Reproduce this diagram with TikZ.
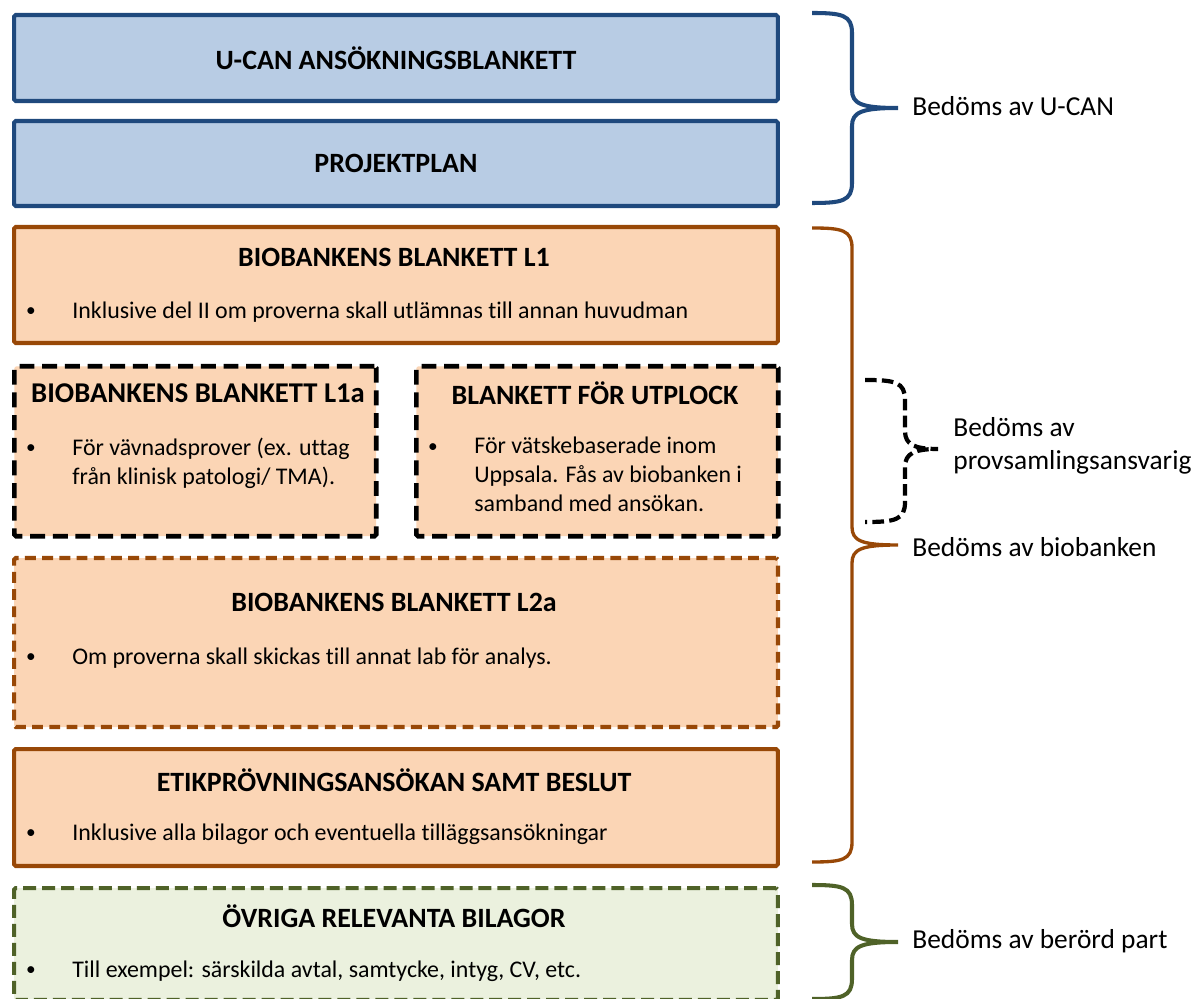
\documentclass[tikz,border=0pt]{standalone}
\usepackage{fontspec}
\setmainfont{Carlito}[Ligatures=NoCommon]
\definecolor{ucanblue}{HTML}{1F497D}
\definecolor{ucanfill}{HTML}{B8CCE4}
\definecolor{biobrown}{HTML}{984807}
\definecolor{biofill}{HTML}{FBD5B5}
\definecolor{partgreen}{HTML}{4F6228}
\definecolor{partfill}{HTML}{EBF1DE}
\tikzset{
  formbox/.style={anchor=north west, inner sep=0pt, rounded corners=1pt},
  bluebox/.style={formbox, draw=ucanblue, fill=ucanfill, line width=2.3pt},
  brownbox/.style={formbox, draw=biobrown, fill=biofill, line width=2.3pt},
  browndash/.style={formbox, draw=biobrown, fill=biofill, line width=2.4pt, dash pattern=on 6.2pt off 3.6pt},
  blackdash/.style={formbox, draw=black, fill=biofill, line width=2.6pt, dash pattern=on 8.5pt off 4.4pt},
  greendash/.style={formbox, draw=partgreen, fill=partfill, line width=2.3pt, dash pattern=on 7.4pt off 3.4pt},
  boxtitle/.style={font=\fontsize{15.9}{17}\selectfont\bfseries, inner sep=0pt},
  bodytext/.style={font=\fontsize{13.6}{16.4}\selectfont, anchor=west, align=left, inner sep=0pt},
  dot/.style={font=\fontsize{11}{13}\selectfont, inner sep=0pt},
  sidelabel/.style={font=\fontsize{15.6}{18.6}\selectfont, anchor=west, align=left, inner sep=0pt}
}
% #1 style, #2 left x, #3 top y, #4 tip y, #5 bottom y, #6 tip x
\newcommand{\sidebrace}[6]{%
  \draw[#1] (#2,#3) .. controls ({#2+30},#3) and ({#2+40},{#3+2}) .. ({#2+40},{#3+20})
    -- ({#2+40},{#4-18}) .. controls ({#2+40},{#4-4}) and ({#2+50},#4) .. (#6,#4)
    .. controls ({#2+50},#4) and ({#2+40},{#4+4}) .. ({#2+40},{#4+18})
    -- ({#2+40},{#5-20}) .. controls ({#2+40},{#5-2}) and ({#2+30},#5) .. (#2,#5);}
\begin{document}
\begin{tikzpicture}[x=0.02cm, y=-0.02cm]
  \useasboundingbox (0,0) rectangle (1200,999);
  \clip (0,0) rectangle (1200,999);

  % U-CAN
  \node[bluebox, minimum width=15.28cm, minimum height=1.72cm] (ucan) at (12,13) {};
  \node[boxtitle] (ucantitle) at (ucan.center) {U-CAN ANSÖKNINGSBLANKETT};
  \node[bluebox, minimum width=15.28cm, minimum height=1.7cm] (plan) at (12,119) {};
  \node[boxtitle] (plantitle) at (plan.center) {PROJEKTPLAN};

  % biobanken
  \node[brownbox, minimum width=15.28cm, minimum height=2.32cm] (l1) at (12,225) {};
  \node[boxtitle] (l1title) at (394,257) {BIOBANKENS BLANKETT L1};
  \node[dot] (l1dot) at (31,312) {\textbullet};
  \node[bodytext] (l1text) at (72,312) {Inklusive del II om proverna skall utlämnas till annan huvudman};

  \node[blackdash, minimum width=7.24cm, minimum height=3.4cm] (l1a) at (12,364) {};
  \node[boxtitle, font=\fontsize{16.3}{17}\selectfont\bfseries] (l1atitle) at (198,393) {BIOBANKENS BLANKETT L1a};
  \node[dot] (l1adot) at (31,449) {\textbullet};
  \node[bodytext, anchor=north west] (l1atext) at (72,438) {För vävnadsprover (ex. uttag\\från klinisk patologi/ TMA).};

  \node[blackdash, minimum width=7.24cm, minimum height=3.4cm] (utplock) at (414,364) {};
  \node[boxtitle] (utplocktitle) at (595,393) {BLANKETT FÖR UTPLOCK};
  \node[dot] (utplockdot) at (433,448) {\textbullet};
  \node[bodytext, anchor=north west] (utplocktext) at (474,437) {För vätskebaserade inom\\Uppsala. Fås av biobanken i\\samband med ansökan.};

  \node[browndash, minimum width=15.28cm, minimum height=3.38cm] (l2a) at (12,556) {};
  \node[boxtitle] (l2atitle) at (394,602) {BIOBANKENS BLANKETT L2a};
  \node[dot] (l2adot) at (31,658) {\textbullet};
  \node[bodytext] (l2atext) at (72,658) {Om proverna skall skickas till annat lab för analys.};

  \node[brownbox, minimum width=15.28cm, minimum height=2.34cm] (etik) at (12,747) {};
  \node[boxtitle] (etiktitle) at (394,780) {ETIKPRÖVNINGSANSÖKAN SAMT BESLUT};
  \node[dot] (etikdot) at (31,834) {\textbullet};
  \node[bodytext] (etiktext) at (72,834) {Inklusive alla bilagor och eventuella tilläggsansökningar};

  % berörd part
  \node[greendash, minimum width=15.28cm, minimum height=2.24cm] (ovriga) at (12,886) {};
  \node[boxtitle] (ovrigatitle) at (394,916) {ÖVRIGA RELEVANTA BILAGOR};
  \node[dot] (ovrigadot) at (31,971) {\textbullet};
  \node[bodytext] (ovrigatext) at (72,971) {Till exempel: särskilda avtal, samtycke, intyg, CV, etc.};

  % braces
  \sidebrace{ucanblue, line width=2.3pt}{812}{13}{108}{203}{898}
  \sidebrace{biobrown, line width=1.9pt}{812}{228}{545}{862}{898}
  \sidebrace{black, line width=2.4pt, dash pattern=on 6.6pt off 3pt}{865}{380}{449}{522}{938}
  \sidebrace{partgreen, line width=2.3pt}{812}{885}{942}{999}{898}

  \node[sidelabel] (ucanlabel) at (912,106) {Bedöms av U-CAN};
  \node[sidelabel] (biolabel) at (912,547) {Bedöms av biobanken};
  \node[sidelabel] (provlabel) at (953,446) {Bedöms av\\provsamlingsansvarig};
  \node[sidelabel] (partlabel) at (912,941) {Bedöms av berörd part};
\end{tikzpicture}
\end{document}
